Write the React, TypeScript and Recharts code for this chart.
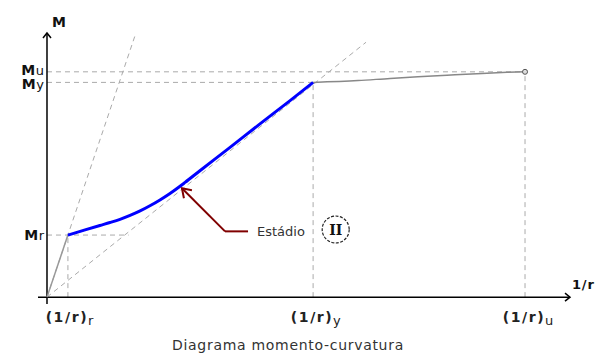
import React from 'react';
import { ComposedChart, Line, XAxis, YAxis, ReferenceLine, ReferenceDot } from 'recharts';

// Curvature (1/r) ticks and their subscripts
const curvatureTicks = [1.0, 12.72, 22.85];
const curvatureSubs = ['r', 'y', 'u'];
// Moment ticks and their subscripts
const momentTicks = [23.5, 81.3, 85.3];
const momentSubs = ['r', 'y', 'u'];

// Stage I (uncracked) branch
const stageI = [
  { x: 0, y: 0 },
  { x: 1.0, y: 23.5 },
];
// Stage II branch (blue)
const stageII = [
  { x: 1.0, y: 23.5 },
  { x: 1.82, y: 25.47 },
  { x: 2.53, y: 27.14 },
  { x: 3.01, y: 28.25 },
  { x: 3.49, y: 29.46 },
  { x: 3.97, y: 30.94 },
  { x: 4.45, y: 32.64 },
  { x: 4.92, y: 34.6 },
  { x: 5.4, y: 36.8 },
  { x: 5.88, y: 39.25 },
  { x: 6.36, y: 41.97 },
  { x: 6.6, y: 43.43 },
  { x: 7.31, y: 47.86 },
  { x: 8.75, y: 56.7 },
  { x: 10.18, y: 65.6 },
  { x: 11.62, y: 74.4 },
  { x: 12.72, y: 81.3 },
];
// Stage III (yield to ultimate)
const stageIII = [
  { x: 12.72, y: 81.3 },
  { x: 14.87, y: 82.0 },
  { x: 16.4, y: 82.8 },
  { x: 17.73, y: 83.4 },
  { x: 19.12, y: 84.0 },
  { x: 20.55, y: 84.6 },
  { x: 21.99, y: 85.1 },
  { x: 22.85, y: 85.3 },
];
// Guide lines through the origin
const uncrackedTangentEnd = { x: 4.25, y: 100 };
const secantEnd = { x: 15.25, y: 96.5 };
const mrGuideEnd = 3.9;
// Annotation path (arrow tip, elbow, end)
const annotationPath = [
  { x: 6.45, y: 41.2 },
  { x: 8.51, y: 24.9 },
  { x: 9.61, y: 24.9 },
];
const stageLabel = { x: 10.04, y: 24.9, text: 'Estádio' };
const stageBadge = { x: 13.8, y: 25.6, text: 'II' };
const titleText = 'Diagrama momento-curvatura';
const xMin = -0.43;
const xMax = 25;
const yMin = -2.6;
const yMax = 100;

const GUIDE = '#aaaaaa';
const FONT = '"DejaVu Sans", Verdana, sans-serif';

const XTick = (props: any) => {
  const { x, y, payload, index } = props;
  const i = curvatureTicks.indexOf(payload.value);
  const sub = curvatureSubs[i >= 0 ? i : index];
  return (
    <g>
      <text x={x - 1} y={y + 18} textAnchor="middle" fontFamily={FONT} fontSize={14} fontWeight="bold" letterSpacing={1.6} fill="#222">
        (1/r)
      </text>
      <text x={x + 20} y={y + 21} textAnchor="start" fontFamily={FONT} fontSize={13} fill="#222">
        {sub}
      </text>
    </g>
  );
};

const YTick = (props: any) => {
  const { x, y, payload, index } = props;
  const i = momentTicks.indexOf(payload.value);
  const sub = momentSubs[i >= 0 ? i : index];
  const dy = sub === 'u' ? 3 : sub === 'y' ? 7 : 5;
  return (
    <text x={x + 6} y={y + dy} textAnchor="end" fontFamily={FONT} fill="#111">
      <tspan fontSize={14} fontWeight="bold" letterSpacing={0.5}>M</tspan>
      <tspan fontSize={13}>{sub}</tspan>
    </text>
  );
};

const XArrow = (props: any) => {
  const { cx, cy } = props;
  return (
    <g>
      <polyline points={`${cx - 5},${cy - 4} ${cx},${cy} ${cx - 5},${cy + 4}`} fill="none" stroke="#000" strokeWidth={1.5} />
      <text x={cx + 2} y={cy - 8} fontFamily={FONT} fontSize={13} fontWeight="bold" letterSpacing={0.8} fill="#111">1/r</text>
    </g>
  );
};

const YArrow = (props: any) => {
  const { cx, cy } = props;
  return (
    <g>
      <polyline points={`${cx - 4},${cy + 5} ${cx},${cy} ${cx + 4},${cy + 5}`} fill="none" stroke="#000" strokeWidth={1.5} />
      <text x={cx + 5} y={cy - 6} fontFamily={FONT} fontSize={14} fontWeight="bold" letterSpacing={0.5} fill="#111">M</text>
    </g>
  );
};

const AnnotationHead = (props: any) => {
  const { cx, cy } = props;
  return (
    <polyline
      points={`${cx + 10},${cy + 2} ${cx},${cy} ${cx + 2},${cy + 10}`}
      fill="none"
      stroke="#800000"
      strokeWidth={2}
    />
  );
};

const StageText = (props: any) => {
  const { cx, cy } = props;
  return (
    <text x={cx} y={cy + 5} fontFamily={FONT} fontSize={13} fill="#333">
      {stageLabel.text}
    </text>
  );
};

const Badge = (props: any) => {
  const { cx, cy } = props;
  return (
    <g>
      <circle cx={cx} cy={cy} r={13.5} fill="#fff" stroke="#222" strokeWidth={1.2} strokeDasharray="3 1.5" />
      <text x={cx} y={cy + 5} textAnchor="middle" fontFamily='"DejaVu Serif", "Liberation Serif", serif' fontSize={14} fontWeight="bold" fill="#111">
        {stageBadge.text}
      </text>
    </g>
  );
};

const EndMarker = (props: any) => {
  const { cx, cy } = props;
  return <circle cx={cx} cy={cy} r={2.5} fill="#ddd" stroke="#555" strokeWidth={1} />;
};

export default function App() {
  const dashed = { stroke: GUIDE, strokeDasharray: '5 4', strokeWidth: 1 };
  return (
    <div style={{ position: 'absolute', left: 0, top: 0, width: 600, height: 354, background: '#fff' }}>
      <ComposedChart width={600} height={354} margin={{ top: 33, right: 30, bottom: 0, left: 0 }}>
        <XAxis
          type="number"
          dataKey="x"
          domain={[xMin, xMax]}
          ticks={curvatureTicks}
          interval={0}
          height={50}
          axisLine={false}
          tickLine={false}
          tickSize={0}
          tickMargin={0}
          tick={<XTick />}
          allowDataOverflow
        />
        <YAxis
          type="number"
          dataKey="y"
          domain={[yMin, yMax]}
          ticks={momentTicks}
          interval={0}
          width={38}
          axisLine={false}
          tickLine={false}
          tickSize={0}
          tickMargin={0}
          tick={<YTick />}
          allowDataOverflow
        />
        {/* guide lines */}
        <ReferenceLine segment={[{ x: 0, y: 0 }, uncrackedTangentEnd]} {...dashed} />
        <ReferenceLine segment={[{ x: 0, y: 0 }, secantEnd]} {...dashed} />
        <ReferenceLine segment={[{ x: 0, y: momentTicks[0] }, { x: mrGuideEnd, y: momentTicks[0] }]} {...dashed} />
        <ReferenceLine segment={[{ x: 0, y: momentTicks[1] }, { x: curvatureTicks[1], y: momentTicks[1] }]} {...dashed} />
        <ReferenceLine segment={[{ x: 0, y: momentTicks[2] }, { x: curvatureTicks[2], y: momentTicks[2] }]} {...dashed} />
        <ReferenceLine segment={[{ x: curvatureTicks[0], y: 0 }, { x: curvatureTicks[0], y: momentTicks[0] }]} {...dashed} />
        <ReferenceLine segment={[{ x: curvatureTicks[1], y: 0 }, { x: curvatureTicks[1], y: momentTicks[1] }]} {...dashed} />
        <ReferenceLine segment={[{ x: curvatureTicks[2], y: 0 }, { x: curvatureTicks[2], y: momentTicks[2] }]} {...dashed} />
        {/* axes */}
        <ReferenceLine segment={[{ x: xMin, y: 0 }, { x: xMax, y: 0 }]} stroke="#000" strokeWidth={1.5} />
        <ReferenceLine segment={[{ x: 0, y: yMin }, { x: 0, y: yMax }]} stroke="#000" strokeWidth={1.5} />
        <ReferenceDot x={xMax} y={0} r={0} shape={<XArrow />} />
        <ReferenceDot x={0} y={yMax} r={0} shape={<YArrow />} />
        {/* curve branches */}
        <Line data={stageI} dataKey="y" type="linear" stroke="#999" strokeWidth={1.5} dot={false} isAnimationActive={false} />
        <Line data={stageIII} dataKey="y" type="monotone" stroke="#888" strokeWidth={1.5} dot={false} isAnimationActive={false} />
        <Line data={stageII} dataKey="y" type="monotone" stroke="#0000ff" strokeWidth={3} dot={false} isAnimationActive={false} />
        <ReferenceDot x={stageIII[stageIII.length - 1].x} y={stageIII[stageIII.length - 1].y} r={2.5} shape={<EndMarker />} />
        {/* annotation */}
        <ReferenceLine segment={[annotationPath[0], annotationPath[1]]} stroke="#800000" strokeWidth={2} />
        <ReferenceLine segment={[annotationPath[1], annotationPath[2]]} stroke="#800000" strokeWidth={2} />
        <ReferenceDot x={annotationPath[0].x} y={annotationPath[0].y} r={0} shape={<AnnotationHead />} />
        <ReferenceDot x={stageLabel.x} y={stageLabel.y} r={0} shape={<StageText />} />
        <ReferenceDot x={stageBadge.x} y={stageBadge.y} r={14} shape={<Badge />} />
      </ComposedChart>
      <div
        style={{
          position: 'absolute',
          left: 172,
          top: 337,
          fontFamily: FONT,
          fontSize: 14,
          letterSpacing: '0.7px',
          color: '#333',
          lineHeight: '16px',
          whiteSpace: 'nowrap',
        }}
      >
        {titleText}
      </div>
    </div>
  );
}
